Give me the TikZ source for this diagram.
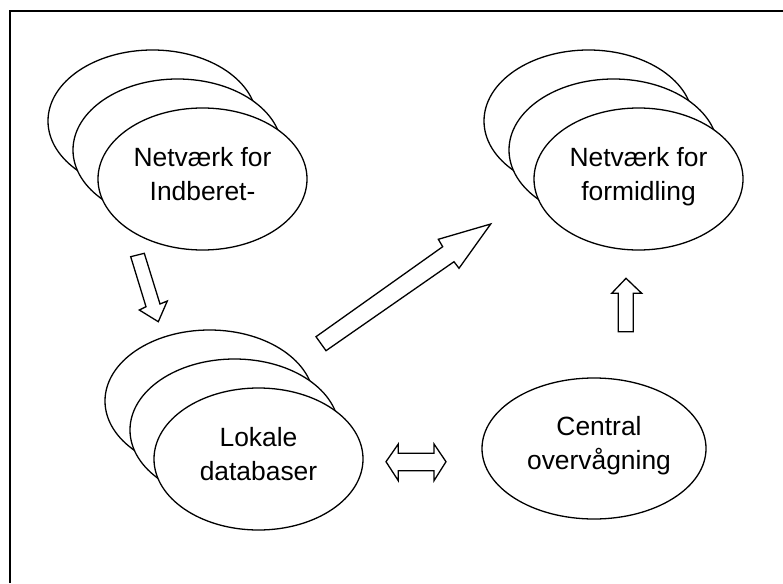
\documentclass[tikz,border=0pt]{standalone}
\usepackage{fontspec}
\setmainfont{Liberation Sans}
\usetikzlibrary{shapes.geometric}
\begin{document}
\begin{tikzpicture}[x=1pt,y=-1pt,
  cloud/.style={ellipse,draw,fill=white,line width=1.3pt,minimum width=209pt,minimum height=142pt,inner sep=0pt,outer sep=0pt},
  txt/.style={font=\fontsize{26.4}{34}\selectfont,align=center,inner sep=0pt,anchor=north},
  blockarrow/.style={draw,fill=white,line width=1.3pt,line join=miter}]
\useasboundingbox (0,0) rectangle (783,583);
\coordinate (fbl) at (10,583);
\coordinate (ftl) at (10,11);
\coordinate (ftr) at (783,11);
\draw[line width=2pt] (fbl) -- (ftl) -- (ftr);
% Netvaerk for Indberet-
\node[cloud] (indA) at (152.5,121) {};
\node[cloud] (indB) at (177.5,150) {};
\node[cloud] (indC) at (202.5,179) {};
\node[txt] (indT) at ([yshift=32pt]indC.center) {Netværk for\\Indberet-};
% Netvaerk for formidling
\node[cloud] (forA) at (588.5,121) {};
\node[cloud] (forB) at (613.5,150) {};
\node[cloud] (forC) at (638.5,179) {};
\node[txt] (forT) at ([yshift=32pt]forC.center) {Netværk for\\formidling};
% Lokale databaser
\node[cloud] (lokA) at (209.5,401) {};
\node[cloud] (lokB) at (234.5,430) {};
\node[cloud] (lokC) at (258.5,459) {};
\node[txt] (lokT) at ([yshift=32pt]lokC.center) {Lokale\\databaser};
% Central overvaagning
\node[cloud,minimum width=224pt,minimum height=141pt] (cen) at (594,448.5) {};
\node[txt] (cenT) at ([yshift=32.5pt,xshift=5pt]cen.center) {Central\\overvågning};
% block arrows
\draw[blockarrow] (130.7,256.7) -- (144.3,253.3) -- (160,304) -- (167.3,301) -- (158.3,321.7) -- (139.3,310) -- (146,306.7) -- cycle;
\draw[blockarrow] (316,336.7) -- (442.7,246.7) -- (438.3,239.3) -- (490.7,224) -- (459,268.3) -- (454,261.7) -- (326,350.7) -- cycle;
\draw[blockarrow] (618.3,331.7) -- (618.3,293.3) -- (611.7,293.3) -- (626,278.3) -- (641.7,293.3) -- (633.3,293.3) -- (633.3,331.7) -- cycle;
\draw[blockarrow] (386,461.7) -- (398.3,444) -- (398.3,453.3) -- (434,453.3) -- (434,444) -- (446,461.7) -- (434,480.7) -- (434,470.7) -- (398.3,470.7) -- (398.3,480.7) -- cycle;
\end{tikzpicture}
\end{document}
